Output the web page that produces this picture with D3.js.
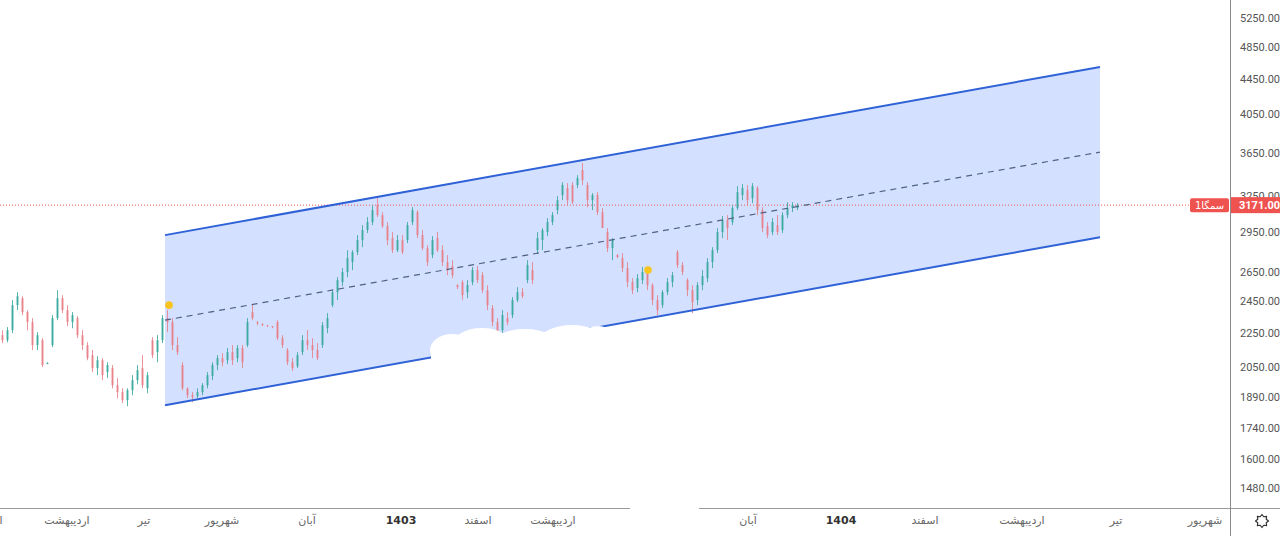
<!DOCTYPE html>
<html><head><meta charset="utf-8">
<script src="https://cdn.jsdelivr.net/npm/d3@7/dist/d3.min.js"></script>
<style>html,body{margin:0;padding:0;background:#fff;overflow:hidden}svg{display:block}</style>
</head><body><svg id="c" width="1280" height="536"></svg>
<script>
// ---- data ----
const open  = [2234,2204,2264,2422,2468,2377,2314,2175,2204,2072,2175,2339,2468,2390,2314,2339,2234,2175,2117,2044,2088,2022,2044,1952,1916,1875,1926,1979,2044,1936,2204,2134,2204,2339,2314,2175,2061,1936,1900,1895,1916,1952,2001,2061,2100,2088,2134,2100,2158,2175,2377,2314,2301,2295,2289,2314,2216,2146,2077,2055,2134,2204,2175,2146,2175,2276,2422,2508,2577,2648,2720,2794,2886,2965,3030,3171,3087,2997,2902,2809,2886,2886,3030,3112,2925,2824,2772,2902,2809,2720,2691,2556,2577,2508,2577,2662,2626,2522,2403,2314,2264,2339,2358,2455,2508,2591,2662,2809,2886,2949,3030,3129,3258,3320,3347,3347,3485,3347,3214,3258,3112,2949,2824,2772,2749,2676,2577,2536,2591,2648,2556,2455,2422,2508,2577,2794,2698,2591,2522,2455,2556,2605,2720,2809,2949,3046,3030,3146,3258,3302,3231,3320,3129,2997,2949,3005,2965,3087,3146,3146];
const high  = [2264,2283,2455,2508,2481,2390,2339,2252,2216,2077,2358,2522,2488,2422,2377,2352,2264,2192,2146,2111,2100,2077,2061,1990,1936,1936,2006,2061,2117,2022,2222,2234,2358,2390,2339,2222,2077,1941,1916,1936,1963,2022,2077,2117,2128,2158,2175,2175,2175,2339,2422,2320,2307,2295,2289,2326,2234,2158,2100,2134,2234,2264,2216,2187,2314,2371,2522,2612,2676,2809,2809,2925,3005,3071,3171,3231,3112,3030,2949,2925,2925,3030,3154,3129,2965,2847,2917,2949,2847,2772,2734,2563,2591,2591,2684,2691,2648,2556,2422,2339,2390,2377,2475,2542,2536,2734,2720,2949,2981,3062,3112,3249,3374,3365,3374,3438,3552,3374,3276,3284,3146,2981,2902,2779,2787,2720,2605,2633,2684,2676,2570,2488,2522,2605,2648,2809,2720,2605,2556,2577,2662,2749,2832,2981,3079,3087,3171,3338,3356,3347,3365,3338,3154,3030,3062,3087,3112,3197,3197,3188];
const low   = [2187,2192,2246,2390,2358,2264,2146,2146,2050,2066,2163,2326,2371,2289,2276,2216,2146,2088,2022,2006,1979,1990,1936,1885,1860,1845,1900,1957,1936,1910,2100,2077,2187,2252,2146,2117,1926,1885,1865,1885,1900,1936,1979,2033,2055,2066,2061,2077,2044,2163,2326,2295,2289,2283,2276,2204,2158,2061,2028,2044,2117,2146,2100,2088,2158,2246,2409,2455,2549,2612,2662,2772,2832,2941,3005,3071,2981,2847,2787,2794,2779,2863,3005,2902,2809,2691,2749,2794,2691,2626,2605,2529,2455,2468,2556,2570,2502,2390,2289,2204,2234,2295,2339,2442,2468,2570,2563,2779,2809,2917,3005,3095,3214,3171,3180,3320,3347,3154,3129,3087,2981,2794,2734,2749,2648,2542,2495,2508,2563,2522,2422,2358,2403,2488,2542,2676,2626,2481,2371,2422,2522,2577,2676,2787,2902,2886,3005,3129,3214,3171,3188,3087,2949,2902,2925,2925,2941,3062,3112,3129];
const close = [2204,2264,2422,2481,2377,2314,2175,2234,2061,2072,2339,2468,2390,2314,2358,2234,2175,2100,2044,2088,2006,2061,1952,1916,1875,1926,1979,2033,1952,2006,2117,2204,2339,2314,2175,2134,1936,1900,1890,1916,1952,2006,2061,2100,2077,2134,2088,2158,2077,2314,2339,2307,2295,2289,2283,2216,2175,2077,2044,2117,2204,2175,2146,2100,2295,2339,2508,2591,2648,2749,2794,2886,2965,3030,3129,3087,2997,2886,2809,2886,2794,3005,3129,2925,2824,2720,2886,2809,2720,2662,2626,2542,2488,2556,2662,2591,2522,2422,2314,2234,2358,2314,2455,2508,2481,2698,2591,2902,2965,3030,3087,3214,3347,3214,3197,3410,3392,3214,3258,3112,2981,2824,2886,2757,2676,2577,2522,2605,2648,2556,2455,2390,2508,2577,2626,2698,2648,2522,2442,2556,2619,2720,2809,2949,3046,2981,3146,3284,3320,3214,3338,3129,2981,2925,3030,2949,3087,3146,3171,3171];

const priceTicks = [5250,4850,4450,4050,3650,3250,2950,2650,2450,2250,2050,1890,1740,1600,1480];
const monthLabels = ["اسفند","اردیبهشت","تیر","شهریور","آبان","1403","اسفند","اردیبهشت","آبان","1404","اسفند","اردیبهشت","تیر","شهریور"];
const monthIndex  = [-2.6,13,28.4,44,61,79.8,95.2,110.2,149.2,167.8,184.6,204,222.8,240.6];
const yearLabels  = ["1403","1404"];

const channelIndex = [32.6,219.6];
const channelUpper = [2925,4601];
const channelMid   = [2326,3658];
const channelLower = [1850,2909];

const markerIndex = [33.4,129.2];
const markerPrice = [2422,2662];

const lastPrice = 3171;
const symbolName = "سمگا1";

// ---- scales ----
const svg = d3.select("#c");
const x = d3.scaleLinear().domain([0,159]).range([2,797]);
const y = d3.scaleLog().domain([1480,5250]).range([488,18]);
const axisX = 1230, axisY = 508;

// channel fill
const poly = [
  [x(channelIndex[0]), y(channelUpper[0])],
  [x(channelIndex[1]), y(channelUpper[1])],
  [x(channelIndex[1]), y(channelLower[1])],
  [x(channelIndex[0]), y(channelLower[0])]
];
svg.append("polygon").attr("points", poly.map(p=>p.join(",")).join(" "))
  .attr("fill","rgba(41,98,255,0.2)");

// price dotted line
svg.append("line").attr("x1",0).attr("x2",1190).attr("y1",y(lastPrice)).attr("y2",y(lastPrice))
  .attr("stroke","#ef5350").attr("stroke-width",1).attr("stroke-dasharray","1,2");

// candles
const bars = d3.range(close.length).map(i=>({i,o:open[i],h:high[i],l:low[i],c:close[i]}));
const g = svg.append("g");
bars.forEach(d=>{
  const up = d.c >= d.o;
  const col = up ? "#3aa99d" : "#e8808a";
  const cx = Math.round(x(d.i)) + 0.5;
  g.append("line").attr("x1",cx).attr("x2",cx).attr("y1",y(d.h)).attr("y2",y(d.l))
    .attr("stroke",col).attr("stroke-width",1).attr("opacity",0.85);
  const y0 = y(Math.max(d.o,d.c)), y1 = y(Math.min(d.o,d.c));
  g.append("rect").attr("x",cx-1).attr("width",2).attr("y",y0).attr("height",Math.max(1,y1-y0))
    .attr("fill",col).attr("opacity",0.85);
});

// channel lines
function seg(prices, dash, col, w){
  svg.append("line")
    .attr("x1",x(channelIndex[0])).attr("y1",y(prices[0]))
    .attr("x2",x(channelIndex[1])).attr("y2",y(prices[1]))
    .attr("stroke",col).attr("stroke-width",w).attr("stroke-dasharray",dash);
}
seg(channelUpper,null,"#2f62d6",2);
seg(channelLower,null,"#2f62d6",2);
seg(channelMid,"6,5","#4f6285",1.2);

// markers
markerIndex.forEach((mi,k)=>{
  svg.append("circle").attr("cx",x(mi)).attr("cy",y(markerPrice[k])).attr("r",3.8).attr("fill","#f7c51e");
});

// white cloud cover (watermark removal)
const cloud = svg.append("g").attr("fill","#fff");
[[452,350,22,16],[482,346,30,18],[525,348,36,19],[572,340,32,15],[598,336,14,10]].forEach(e=>{
  cloud.append("ellipse").attr("cx",e[0]).attr("cy",e[1]).attr("rx",e[2]).attr("ry",e[3]);
});
cloud.append("rect").attr("x",431).attr("y",346).attr("width",180).attr("height",30);
cloud.append("rect").attr("x",560).attr("y",336).attr("width",50).attr("height",15);

// axes lines
svg.append("line").attr("x1",0).attr("x2",1280).attr("y1",axisY+0.5).attr("y2",axisY+0.5).attr("stroke","#9a9a9a");
svg.append("line").attr("x1",axisX+0.5).attr("x2",axisX+0.5).attr("y1",0).attr("y2",536).attr("stroke","#8a8a8a");

// right price axis labels
svg.append("g").selectAll("text").data(priceTicks).join("text")
  .attr("x",axisX+10).attr("y",d=>y(d)+4)
  .attr("font-family","Roboto, 'Noto Sans', sans-serif").attr("font-size",11).attr("fill","#555")
  .text(d=>d.toFixed(2));

// bottom time labels
svg.append("g").selectAll("text").data(monthLabels).join("text")
  .attr("x",(d,i)=>x(monthIndex[i])).attr("y",524).attr("text-anchor","middle")
  .attr("font-family","'DejaVu Sans', 'Noto Sans', sans-serif")
  .attr("font-size",11)
  .attr("font-weight",d=>yearLabels.includes(d)?"bold":"normal")
  .attr("fill",d=>yearLabels.includes(d)?"#333":"#666")
  .attr("direction","rtl")
  .text(d=>d);

// white cover on time axis
svg.append("rect").attr("x",630).attr("y",505).attr("width",69).attr("height",31).attr("fill","#fff");

// last price labels
const ly = y(lastPrice);
svg.append("rect").attr("x",1190).attr("y",ly-7).attr("width",39).attr("height",14).attr("rx",2).attr("fill","#ef5350");
svg.append("text").attr("x",1209.5).attr("y",ly+4).attr("text-anchor","middle")
  .attr("font-family","'DejaVu Sans', sans-serif").attr("font-size",10).attr("fill","#fff").text(symbolName);
svg.append("rect").attr("x",axisX+1).attr("y",ly-8).attr("width",49).attr("height",16).attr("fill","#ef5350");
svg.append("text").attr("x",axisX+9).attr("y",ly+4)
  .attr("font-family","Roboto, sans-serif").attr("font-size",11).attr("font-weight","bold").attr("fill","#fff")
  .text(lastPrice.toFixed(2));

// gear icon
const gc = [1262,521];
const pts = d3.range(16).map(k=>{
  const a = k*Math.PI/8; const r = (k%2===0)?6.5:4.6;
  return [gc[0]+r*Math.cos(a), gc[1]+r*Math.sin(a)];
});
svg.append("polygon").attr("points",pts.map(p=>p.join(",")).join(" "))
  .attr("fill","none").attr("stroke","#333").attr("stroke-width",1.2).attr("stroke-linejoin","round");
</script></body></html>
